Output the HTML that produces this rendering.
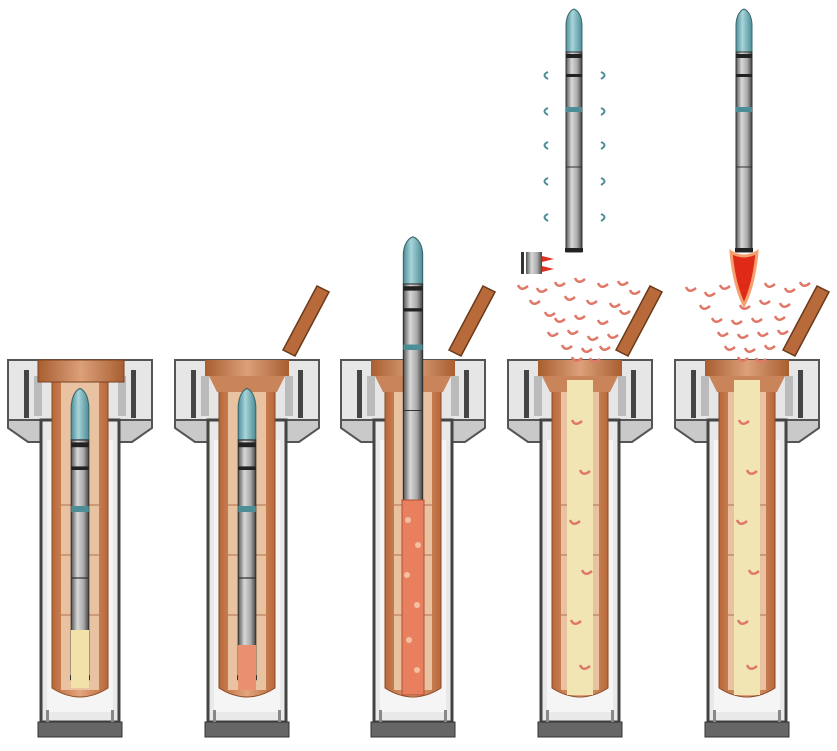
<!DOCTYPE html>
<html><head><style>html,body{margin:0;padding:0;background:#fff}svg{display:block}</style></head>
<body>
<svg width="837" height="751" viewBox="0 0 837 751" xmlns="http://www.w3.org/2000/svg">
<defs>
<linearGradient id="cu" x1="0" x2="1"><stop offset="0" stop-color="#b8683a"/><stop offset=".5" stop-color="#e3a57c"/><stop offset="1" stop-color="#b8683a"/></linearGradient>
<linearGradient id="body" x1="0" x2="1"><stop offset="0" stop-color="#555"/><stop offset=".35" stop-color="#d8d8d8"/><stop offset=".7" stop-color="#aaa"/><stop offset="1" stop-color="#444"/></linearGradient>
<linearGradient id="nose" x1="0" x2="1"><stop offset="0" stop-color="#4d8d96"/><stop offset=".4" stop-color="#a8d4da"/><stop offset="1" stop-color="#4d8d96"/></linearGradient>
<linearGradient id="lidg" x1="0" x2="1"><stop offset="0" stop-color="#a85e30"/><stop offset=".5" stop-color="#dca07a"/><stop offset="1" stop-color="#a85e30"/></linearGradient>
<g id="silo">
  <rect x="-72" y="360" width="144" height="60" fill="#e6e6e6" stroke="#555" stroke-width="2"/>
  <polygon points="-72,420 72,420 72,428 52,442 -52,442 -72,428" fill="#c9c9c9" stroke="#555" stroke-width="2"/>
  <rect x="-56" y="370" width="5" height="48" fill="#444"/>
  <rect x="51" y="370" width="5" height="48" fill="#444"/>
  <rect x="-39" y="420" width="78" height="302" fill="#e9e9e9" stroke="#444" stroke-width="3"/>
  <rect x="-33" y="440" width="66" height="272" fill="#f5f5f5"/>
  <path d="M-28 375 V688 Q0 706 28 688 V375 Z" fill="url(#cu)" stroke="#8a4a25" stroke-width="1"/>
  <rect x="-19" y="380" width="38" height="310" fill="#e9c2a2"/>
  <rect x="-42" y="722" width="84" height="15" fill="#666" stroke="#333"/>
  <rect x="-34" y="710" width="3" height="12" fill="#888"/><rect x="31" y="710" width="3" height="12" fill="#888"/>
  <line x1="-19" y1="505" x2="19" y2="505" stroke="#b07050"/><line x1="-19" y1="555" x2="19" y2="555" stroke="#b07050"/><line x1="-19" y1="615" x2="19" y2="615" stroke="#b07050"/>
  <rect x="-46" y="376" width="8" height="40" fill="#bbb"/><rect x="38" y="376" width="8" height="40" fill="#bbb"/>
</g>
<g id="lidopen">
  <rect x="-42" y="360" width="84" height="16" fill="url(#lidg)"/>
  <polygon points="-38,376 38,376 30,392 -30,392" fill="#c98459"/>
  <polygon points="36,350 48,356 82,292 70,286" fill="#b86a3a" stroke="#6a3a1a" stroke-width="1.5"/>
</g>
<g id="rocket">
  <path d="M-8 40 V12 Q-7 0 0 -3 Q7 0 8 12 V40 Z" fill="url(#nose)" stroke="#3a6a70"/>
  <rect x="-8" y="40" width="16" height="200" fill="url(#body)" stroke="#333"/>
  <rect x="-8" y="42" width="16" height="4" fill="#222"/>
  <rect x="-8" y="62" width="16" height="3" fill="#222"/>
  <rect x="-8" y="95" width="16" height="5" fill="#4d8d96"/>
  <line x1="-8" y1="155" x2="8" y2="155" stroke="#333"/>
  <rect x="-9" y="236" width="18" height="4" fill="#222"/>
</g>
<path id="ra" d="M0 0 q3 7 10 1" fill="none" stroke="#e07868" stroke-width="2.5"/>
<path id="ba" d="M0 0 q-7 3 0 7" fill="none" stroke="#4d8d96" stroke-width="2"/>
<path id="bb" d="M0 0 q7 3 0 7" fill="none" stroke="#4d8d96" stroke-width="2"/>
</defs>

<use href="#silo" x="80"/><use href="#silo" x="247"/><use href="#silo" x="413"/><use href="#silo" x="580"/><use href="#silo" x="747"/>
<rect x="38" y="360" width="86" height="22" fill="url(#lidg)" stroke="#7a4020"/>
<use href="#lidopen" x="247"/><use href="#lidopen" x="413"/><use href="#lidopen" x="580"/><use href="#lidopen" x="747"/>

<g transform="translate(80,392) scale(1.1,1.2)"><use href="#rocket"/></g>
<rect x="71" y="630" width="18" height="58" fill="#f0e2a8"/>
<g transform="translate(247,392) scale(1.1,1.2)"><use href="#rocket"/></g>
<rect x="238" y="645" width="18" height="45" fill="#e99070"/>
<g transform="translate(413,240) scale(1.2,1.1)"><use href="#rocket"/></g>
<rect x="402" y="500" width="22" height="195" fill="#e88060" stroke="#b05030"/>
<g fill="#f5c0a0"><circle cx="408" cy="520" r="3"/><circle cx="418" cy="545" r="3"/><circle cx="407" cy="575" r="3"/><circle cx="417" cy="605" r="3"/><circle cx="409" cy="640" r="3"/><circle cx="417" cy="670" r="3"/></g>

<rect x="567" y="380" width="26" height="315" fill="#f2e5b4"/>
<rect x="734" y="380" width="26" height="315" fill="#f2e5b4"/>
<g>
<use href="#ra" x="572" y="420"/><use href="#ra" x="580" y="470"/><use href="#ra" x="570" y="520"/><use href="#ra" x="582" y="570"/><use href="#ra" x="571" y="620"/><use href="#ra" x="580" y="665"/>
<use href="#ra" x="739" y="420"/><use href="#ra" x="747" y="470"/><use href="#ra" x="737" y="520"/><use href="#ra" x="749" y="570"/><use href="#ra" x="738" y="620"/><use href="#ra" x="747" y="665"/>
</g>

<g transform="translate(574,12)"><use href="#rocket"/></g>
<g transform="translate(744,12)"><use href="#rocket"/></g>
<g>
<use href="#ba" x="548" y="72"/><use href="#ba" x="548" y="108"/><use href="#ba" x="548" y="142"/><use href="#ba" x="548" y="178"/><use href="#ba" x="548" y="214"/>
<use href="#bb" x="601" y="72"/><use href="#bb" x="601" y="108"/><use href="#bb" x="601" y="142"/><use href="#bb" x="601" y="178"/><use href="#bb" x="601" y="214"/>
</g>
<rect x="521" y="252" width="3" height="22" fill="#333"/>
<rect x="526" y="252" width="16" height="22" fill="url(#body)"/>
<path d="M542 256 l12 3 -12 3z M542 266 l12 3 -12 3z" fill="#e03020"/>
<path d="M731 252 Q744 260 757 252 Q754 285 744 305 Q734 285 731 252Z" fill="#e02a18" stroke="#f5a070" stroke-width="3"/>

<g>
<use href="#ra" x="518" y="285"/><use href="#ra" x="537" y="288"/><use href="#ra" x="555" y="282"/><use href="#ra" x="575" y="278"/><use href="#ra" x="598" y="283"/><use href="#ra" x="618" y="281"/><use href="#ra" x="630" y="290"/>
<use href="#ra" x="530" y="300"/><use href="#ra" x="565" y="296"/><use href="#ra" x="587" y="300"/><use href="#ra" x="610" y="303"/><use href="#ra" x="545" y="312"/>
<use href="#ra" x="555" y="318"/><use href="#ra" x="575" y="315"/><use href="#ra" x="598" y="320"/><use href="#ra" x="620" y="310"/>
<use href="#ra" x="548" y="332"/><use href="#ra" x="568" y="330"/><use href="#ra" x="588" y="336"/><use href="#ra" x="608" y="334"/>
<use href="#ra" x="562" y="345"/><use href="#ra" x="582" y="348"/><use href="#ra" x="600" y="346"/><use href="#ra" x="572" y="357"/><use href="#ra" x="590" y="358"/>
<use href="#ra" x="686" y="287"/><use href="#ra" x="705" y="292"/><use href="#ra" x="720" y="285"/><use href="#ra" x="765" y="283"/><use href="#ra" x="785" y="288"/><use href="#ra" x="800" y="282"/>
<use href="#ra" x="700" y="305"/><use href="#ra" x="740" y="305"/><use href="#ra" x="760" y="300"/><use href="#ra" x="780" y="303"/>
<use href="#ra" x="712" y="318"/><use href="#ra" x="732" y="320"/><use href="#ra" x="752" y="318"/><use href="#ra" x="775" y="316"/>
<use href="#ra" x="718" y="332"/><use href="#ra" x="738" y="334"/><use href="#ra" x="758" y="332"/><use href="#ra" x="778" y="330"/>
<use href="#ra" x="725" y="346"/><use href="#ra" x="745" y="348"/><use href="#ra" x="765" y="345"/><use href="#ra" x="738" y="357"/><use href="#ra" x="756" y="358"/>
</g>
</svg>
</body></html>
